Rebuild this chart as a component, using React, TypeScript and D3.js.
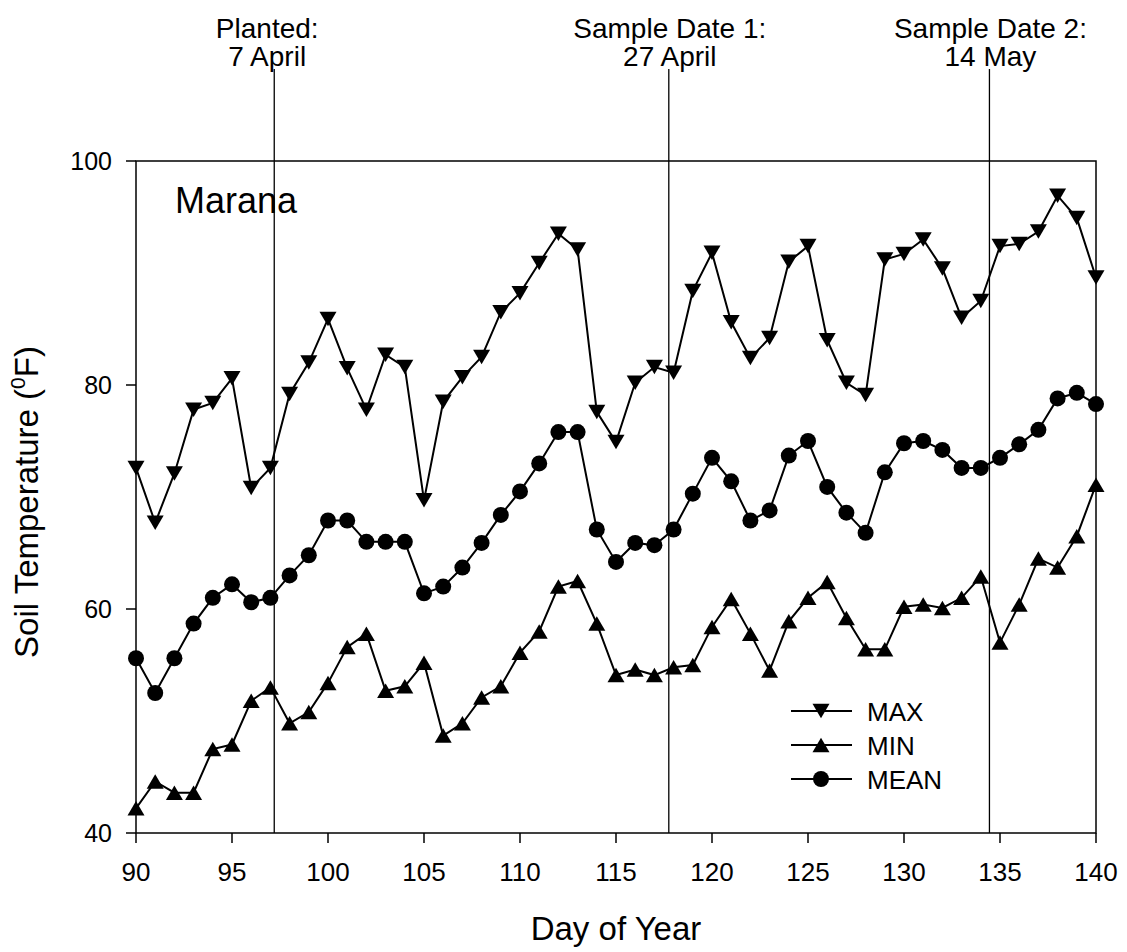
import React from "react";
import * as d3 from "d3";

const days: number[] = d3.range(90, 141);

const maxTemp: number[] = [
  72.6, 67.7, 72.1, 77.8, 78.4, 80.6, 70.8, 72.6, 79.2, 82.0,
  85.9, 81.5, 77.8, 82.7, 81.6, 69.7, 78.5, 80.7, 82.5, 86.5,
  88.2, 90.9, 93.5, 92.1, 77.6, 74.9, 80.2, 81.6, 81.1, 88.4,
  91.8, 85.6, 82.4, 84.2, 91.0, 92.4, 84.0, 80.2, 79.1, 91.2,
  91.7, 93.0, 90.4, 86.0, 87.5, 92.4, 92.6, 93.7, 96.9, 94.9,
  89.6,
];

const minTemp: number[] = [
  42.2, 44.6, 43.6, 43.6, 47.5, 47.9, 51.8, 53.0, 49.8, 50.8,
  53.4, 56.6, 57.8, 52.7, 53.1, 55.2, 48.7, 49.8, 52.1, 53.1,
  56.1, 58.0, 62.0, 62.5, 58.7, 54.1, 54.6, 54.1, 54.8, 55.0,
  58.4, 60.9, 57.8, 54.5, 58.9, 61.0, 62.4, 59.2, 56.4, 56.4,
  60.2, 60.4, 60.1, 61.0, 62.9, 57.0, 60.4, 64.5, 63.7, 66.5,
  71.1,
];

const meanTemp: number[] = [
  55.6, 52.5, 55.6, 58.7, 61.0, 62.2, 60.6, 61.0, 63.0, 64.8,
  67.9, 67.9, 66.0, 66.0, 66.0, 61.4, 62.0, 63.7, 65.9, 68.4,
  70.5, 73.0, 75.8, 75.8, 67.1, 64.2, 65.9, 65.7, 67.1, 70.3,
  73.5, 71.4, 67.9, 68.8, 73.7, 75.0, 70.9, 68.6, 66.8, 72.2,
  74.8, 75.0, 74.2, 72.6, 72.6, 73.5, 74.7, 76.0, 78.8, 79.3,
  78.3,
];

const xTicks: number[] = [90, 95, 100, 105, 110, 115, 120, 125, 130, 135, 140];
const yTicks: number[] = [40, 60, 80, 100];

const eventDays: number[] = [97.2, 117.75, 134.45];
const eventLine1: string[] = ["Planted:", "Sample Date 1:", "Sample Date 2:"];
const eventLine2: string[] = ["7 April", "27 April", "14 May"];

const seriesNames: string[] = ["MAX", "MIN", "MEAN"];
const seriesMarkers: string[] = ["down", "up", "circle"];

const FONT = "'Liberation Sans', Arial, Helvetica, sans-serif";
const W = 1127;
const H = 952;
const M = { left: 136, right: 1096, top: 161, bottom: 833 };
const eventTextDx = [-7, 1, 1];

function Marker({ kind, x, y }: { kind: string; x: number; y: number }) {
  const w = 17;
  const h = 14.5;
  if (kind === "circle") return <circle cx={x} cy={y} r={8} fill="#000" />;
  if (kind === "down")
    return (
      <path
        d={`M${x - w / 2},${y - h / 2}L${x + w / 2},${y - h / 2}L${x},${y + h / 2}Z`}
        fill="#000"
      />
    );
  return (
    <path
      d={`M${x - w / 2},${y + h / 2}L${x + w / 2},${y + h / 2}L${x},${y - h / 2}Z`}
      fill="#000"
    />
  );
}

export default function App() {
  const x = d3.scaleLinear().domain([90, 140]).range([M.left, M.right]);
  const y = d3.scaleLinear().domain([40, 100]).range([M.bottom, M.top]);
  const allSeries = [maxTemp, minTemp, meanTemp];
  const line = d3
    .line<number>()
    .x((_, i) => x(days[i]))
    .y((v) => y(v));

  const legendX = 791;
  const legendY = [711, 745, 779];

  return (
    <svg
      width={W}
      height={H}
      viewBox={`0 0 ${W} ${H}`}
      style={{ position: "absolute", left: 0, top: 0, background: "#fff" }}
      fontFamily={FONT}
    >
      <rect x={0} y={0} width={W} height={H} fill="#fff" />

      {/* event lines */}
      {eventDays.map((d, i) => (
        <g key={"ev" + i}>
          <line x1={x(d)} x2={x(d)} y1={69} y2={M.bottom} stroke="#000" strokeWidth={1.3} />
          <text x={x(d) + eventTextDx[i]} y={38} fontSize={28} textAnchor="middle">
            {eventLine1[i]}
          </text>
          <text x={x(d) + eventTextDx[i]} y={66} fontSize={28} textAnchor="middle">
            {eventLine2[i]}
          </text>
        </g>
      ))}

      {/* frame */}
      <rect
        x={M.left}
        y={M.top}
        width={M.right - M.left}
        height={M.bottom - M.top}
        fill="none"
        stroke="#000"
        strokeWidth={1.5}
      />

      {/* x ticks */}
      {xTicks.map((t) => (
        <g key={"xt" + t}>
          <line x1={x(t)} x2={x(t)} y1={M.bottom} y2={M.bottom + 10} stroke="#000" strokeWidth={1.5} />
          <text x={x(t)} y={881} fontSize={26} textAnchor="middle">
            {t}
          </text>
        </g>
      ))}

      {/* y ticks */}
      {yTicks.map((t) => (
        <g key={"yt" + t}>
          <line x1={M.left - 10} x2={M.left} y1={y(t)} y2={y(t)} stroke="#000" strokeWidth={1.5} />
          <text x={112} y={y(t)} dy="0.35em" fontSize={25} textAnchor="end">
            {t}
          </text>
        </g>
      ))}

      {/* axis titles */}
      <text x={(M.left + M.right) / 2} y={940} fontSize={33} textAnchor="middle">
        Day of Year
      </text>
      <text transform="translate(38,502) rotate(-90)" fontSize={33} textAnchor="middle">
        Soil Temperature (
        <tspan fontSize={21} dy={-13}>
          0
        </tspan>
        <tspan dy={13}>F)</tspan>
      </text>

      {/* site label */}
      <text x={175} y={213} fontSize={36}>
        Marana
      </text>

      {/* series */}
      {allSeries.map((s, si) => (
        <g key={"s" + si}>
          <path d={line(s) || ""} fill="none" stroke="#000" strokeWidth={2} />
          {s.map((v, i) => (
            <Marker key={i} kind={seriesMarkers[si]} x={x(days[i])} y={y(v)} />
          ))}
        </g>
      ))}

      {/* legend */}
      {seriesNames.map((n, i) => (
        <g key={"lg" + n}>
          <line
            x1={legendX}
            x2={legendX + 61}
            y1={legendY[i]}
            y2={legendY[i]}
            stroke="#000"
            strokeWidth={2}
          />
          <Marker kind={seriesMarkers[i]} x={legendX + 30} y={legendY[i]} />
          <text x={legendX + 76} y={legendY[i] + 10} fontSize={26}>
            {n}
          </text>
        </g>
      ))}
    </svg>
  );
}
